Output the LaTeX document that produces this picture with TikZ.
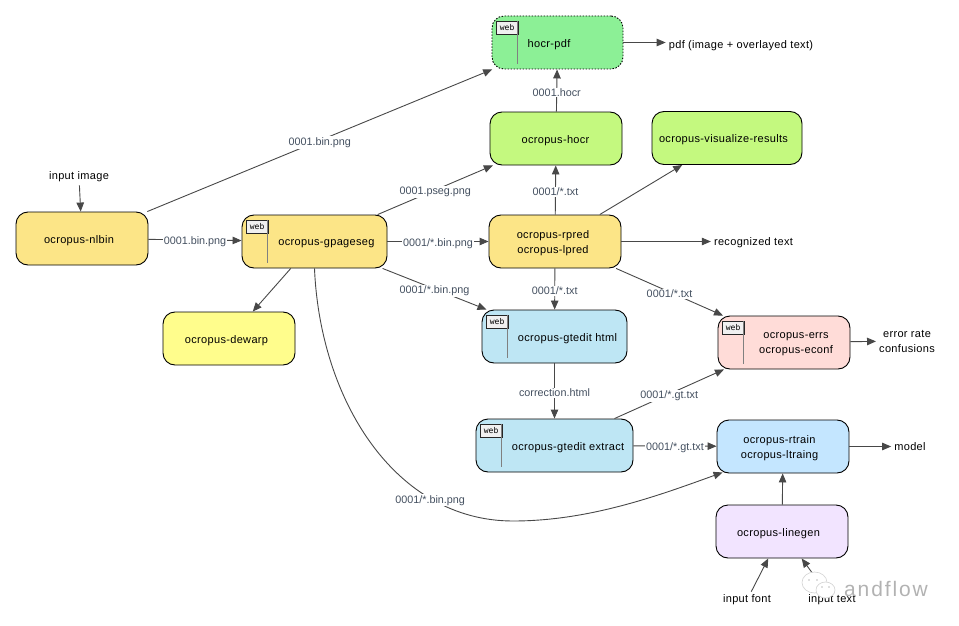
\documentclass[tikz,border=0pt]{standalone}
\usepackage{fontspec}
\setmainfont[LetterSpace=3]{Liberation Sans}
\newfontfamily\filefont{Liberation Sans}
\newfontfamily\webfont{DejaVu Sans Mono}
\newfontfamily\markfont[LetterSpace=9]{Liberation Sans}
\usetikzlibrary{arrows.meta}
\definecolor{edgegray}{HTML}{484848}
\definecolor{labelgray}{HTML}{445060}
\definecolor{yellowbox}{HTML}{FCE587}
\definecolor{lemonbox}{HTML}{FFFD8C}
\definecolor{mintbox}{HTML}{8CF096}
\definecolor{limebox}{HTML}{C4F97F}
\definecolor{bluebox}{HTML}{BEE6F4}
\definecolor{skybox}{HTML}{C4E6FF}
\definecolor{pinkbox}{HTML}{FFDCD8}
\definecolor{lilacbox}{HTML}{F2E4FF}
\tikzset{
    prog/.style={draw=black, line width=0.9pt, rounded corners=12pt, minimum height=53pt, inner sep=0pt},
    progtext/.style={font=\fontsize{11}{15}\selectfont, align=center, inner sep=0pt, yshift=-2pt},
    webtag/.style={draw=black!85, line width=1.2pt, fill=gray!12, anchor=north west, minimum width=22pt,
        minimum height=13.5pt, inner sep=0pt, font=\webfont\fontsize{8}{9}\selectfont},
    webline/.style={draw=gray, line width=0.7pt},
    free/.style={font=\fontsize{11}{15}\selectfont, align=center, inner sep=3pt, yshift=-2pt},
    flow/.style={draw=edgegray, line width=0.9pt, -{Triangle[length=9pt,width=7.5pt]}},
    file/.style={fill=white, text=labelgray, inner sep=1pt, yshift=-2pt, font=\filefont\fontsize{10.8}{12}\selectfont},
    bubble/.style={draw=gray!35, fill=white, line width=0.6pt},
}
\begin{document}
\begin{tikzpicture}[x=1pt,y=-1pt]
    \useasboundingbox (0,0) rectangle (959,626);

    % Programme
    \node[prog, fill=yellowbox, minimum width=132pt] (nlbin) at (82,238.5) {};
    \node[prog, fill=yellowbox, minimum width=145pt] (gpageseg) at (314.5,241.5) {};
    \node[prog, fill=lemonbox, minimum width=132pt] (dewarp) at (229,338.5) {};
    \node[prog, fill=mintbox, minimum width=131pt, dash pattern=on 1.5pt off 1.5pt] (hocrpdf) at (557.5,42.5) {};
    \node[prog, fill=limebox, minimum width=132pt] (hocr) at (556,138.5) {};
    \node[prog, fill=limebox, minimum width=150pt] (visualize) at (727,138) {};
    \node[prog, fill=yellowbox, minimum width=132pt] (rpred) at (555,241.5) {};
    \node[prog, fill=bluebox, minimum width=145pt] (gtedithtml) at (554.5,336.5) {};
    \node[prog, fill=bluebox, minimum width=157pt] (gteditextract) at (554.5,445.5) {};
    \node[prog, fill=pinkbox, minimum width=132pt] (errs) at (784,342.5) {};
    \node[prog, fill=skybox, minimum width=132pt] (rtrain) at (783,446.5) {};
    \node[prog, fill=lilacbox, minimum width=132pt] (linegen) at (782,531.5) {};

    % Beschriftung der Programme
    \foreach \prog/\off/\txt in {nlbin/-3/ocropus-nlbin, gpageseg/12/ocropus-gpageseg, dewarp/-2.5/ocropus-dewarp,
        hocrpdf/-8.5/hocr-pdf, hocr/-0.5/ocropus-hocr, visualize/-3.5/ocropus-visualize-results,
        rpred/-2/{ocropus-rpred\\ocropus-lpred}, gtedithtml/13/ocropus-gtedit html,
        gteditextract/13.5/ocropus-gtedit extract, errs/12/{ocropus-errs\\ocropus-econf},
        rtrain/-3.5/{ocropus-rtrain\\ocropus-ltraing}, linegen/-3.5/ocropus-linegen}
        \node[progtext] (\prog text) at ([xshift=\off pt]\prog.center) {\txt};

    % Web-Markierung
    \foreach \prog in {gpageseg, hocrpdf, gtedithtml, gteditextract, errs} {
        \node[webtag] (\prog web) at ([shift={(4,5)}]\prog.north west) {web};
        \draw[webline] ([shift={(26,5)}]\prog.north west) -- ([shift={(26,48.5)}]\prog.north west);
    }

    % Freie Texte
    \node[free] (inputimage) at (79,175) {input image};
    \node[free] (pdfout) at (741,44) {pdf (image + overlayed text)};
    \node[free] (recognized) at (753.5,241) {recognized text};
    \node[free] (errorrate) at (907,339) {error rate\\confusions};
    \node[free] (model) at (910,445) {model};
    \node[free] (inputfont) at (747,598) {input font};
    \node[free] (inputtext) at (832,598) {input text};

    % Verbindungen
    \draw[flow] (inputimage) -- (nlbin);
    \draw[flow] (nlbin) -- node[file] {0001.bin.png} (hocrpdf);
    \draw[flow] (nlbin) -- node[file] {0001.bin.png} (gpageseg);
    \draw[flow] (gpageseg) -- (dewarp);
    \draw[flow] (gpageseg) -- node[file] {0001.pseg.png} (hocr);
    \draw[flow] (gpageseg) -- node[file] {0001/*.bin.png} (rpred);
    \draw[flow] (gpageseg) -- node[file] {0001/*.bin.png} (gtedithtml);
    \draw[flow] (gpageseg.south) .. controls (320,400) and (395,521) .. node[file, pos=0.74] {0001/*.bin.png} (513,521)
        .. controls (590,521) and (660,495) .. ([shift={(6,-1)}]rtrain.south west);
    \draw[flow] (hocr) -- node[file] {0001.hocr} (hocrpdf);
    \draw[flow] (hocrpdf) -- (hocrpdf -| pdfout.west);
    \draw[flow] (rpred) -- node[file] {0001/*.txt} (hocr);
    \draw[flow] (rpred) -- (visualize);
    \draw[flow] (rpred) -- (rpred -| recognized.west);
    \draw[flow] (rpred) -- node[file] {0001/*.txt} (gtedithtml);
    \draw[flow] (rpred) -- node[file] {0001/*.txt} (errs);
    \draw[flow] (gtedithtml) -- node[file] {correction.html} (gteditextract);
    \draw[flow] (gteditextract) -- node[file] {0001/*.gt.txt} (errs);
    \draw[flow] (gteditextract) -- node[file] {0001/*.gt.txt} (rtrain);
    \draw[flow] (errs) -- (errorrate);
    \draw[flow] (rtrain) -- (rtrain -| model.west);
    \draw[flow] (linegen) -- (rtrain);
    \draw[flow] (inputfont) -- (linegen);
    \draw[flow] (inputtext) -- (linegen);

    % Wasserzeichen
    \draw[bubble] (814.5,582.5) ellipse (12.5pt and 10.5pt);
    \draw[bubble] (825.5,590) ellipse (9.5pt and 8pt);
    \foreach \eyex/\eyey in {809/580, 817/580, 822/587, 829/587}
        \fill[gray!50] (\eyex,\eyey) circle (0.9pt);
    \node[text=gray!60, inner sep=0pt, font=\markfont\fontsize{21}{22}\selectfont] (andflow) at (886,589) {andflow};
\end{tikzpicture}
\end{document}
